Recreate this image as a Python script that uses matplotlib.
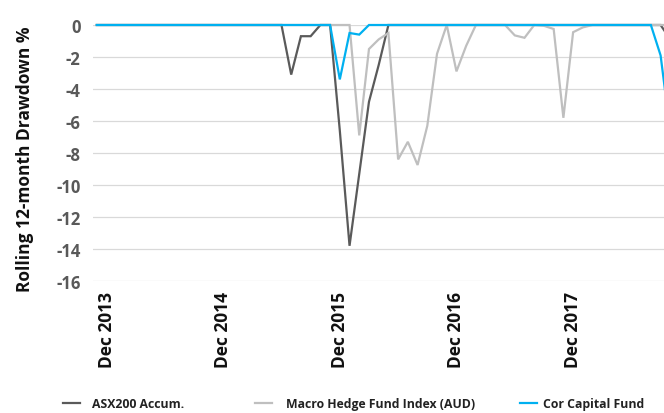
import matplotlib
matplotlib.use("Agg")
import matplotlib.pyplot as plt
import numpy as np

# Month index 0 = Nov 2013
asx200 = [0]*19 + [0, -3.1, -0.7, -0.7, 0, 0, -6.6, -13.8, -9.3, -4.8, -2.5, 0] + [0]*28 + [-0.9]
macro_hf = [0]*27 + [-6.9, -1.5, -0.9, -0.5, -8.4, -7.3, -8.75, -6.3, -1.8, 0, -2.9, -1.3,
                     0, 0, 0, 0, -0.65, -0.8, 0, -0.05, -0.25, -5.8, -0.45, -0.15] + [0]*9
cor_fund = [0]*25 + [-3.4, -0.5, -0.6, 0] + [0]*29 + [-1.9, -6.7]

tick_months = [1, 13, 25, 37, 49]
tick_labels = ["Dec 2013", "Dec 2014", "Dec 2015", "Dec 2016", "Dec 2017"]
y_ticks = [0, -2, -4, -6, -8, -10, -12, -14, -16]

series_names = ["ASX200 Accum.", "Macro Hedge Fund Index (AUD)", "Cor Capital Fund"]
colors = ["#5a5a5a", "#bfbfbf", "#00b0f0"]

plt.rcParams['font.family'] = ['Open Sans', 'DejaVu Sans']

W, H = 664, 414
fig = plt.figure(figsize=(W/100, H/100), dpi=100)
ax = fig.add_axes([93/W, 1-282/H, (W-93)/W, 256/H])

x = np.arange(len(asx200))
lines = []
for data, c, name in zip([asx200, macro_hf, cor_fund], colors, series_names):
    ln, = ax.plot(x[:len(data)], data, color=c, lw=1.6, label=name, clip_on=False, zorder=3,
                  solid_joinstyle='miter')
    lines.append(ln)

ax.set_xlim(-0.39, 58.35)
ax.set_ylim(-16, 0)
ax.set_yticks(y_ticks)
ax.set_yticklabels([str(v) for v in y_ticks])
ax.grid(axis='y', color='#d9d9d9', lw=0.9)
ax.set_axisbelow(True)
for s in ax.spines.values():
    s.set_visible(False)
ax.tick_params(axis='y', length=0, pad=9, labelsize=12, labelcolor='#595959')
ax.tick_params(axis='x', length=0, pad=7, labelsize=12.5, labelcolor='#111111')
ax.set_xticks(tick_months)
ax.set_xticklabels(tick_labels, rotation=90, fontweight='bold')
for t in ax.get_yticklabels():
    t.set_fontweight('bold')

ax.set_ylabel("Rolling 12-month Drawdown %", fontsize=12.5, fontweight='bold', color='#111111')
ax.yaxis.set_label_coords((34-93)/(W-93), 0.48)

fs = 8.8
em = fs * 100 / 72.0
leg_x = [63, 255, 520]
leg_pad_px = [12, 14, 6]
for ln, lx, pp in zip(lines, leg_x, leg_pad_px):
    fig.legend(handles=[ln], loc='center left', bbox_to_anchor=(lx/W, 1-405/H),
               frameon=False, borderpad=0, borderaxespad=0, handlelength=17/em,
               handletextpad=pp/em, prop={'size': fs, 'weight': 'bold'},
               labelcolor='#222222')

fig.savefig("out.png", dpi=100)
